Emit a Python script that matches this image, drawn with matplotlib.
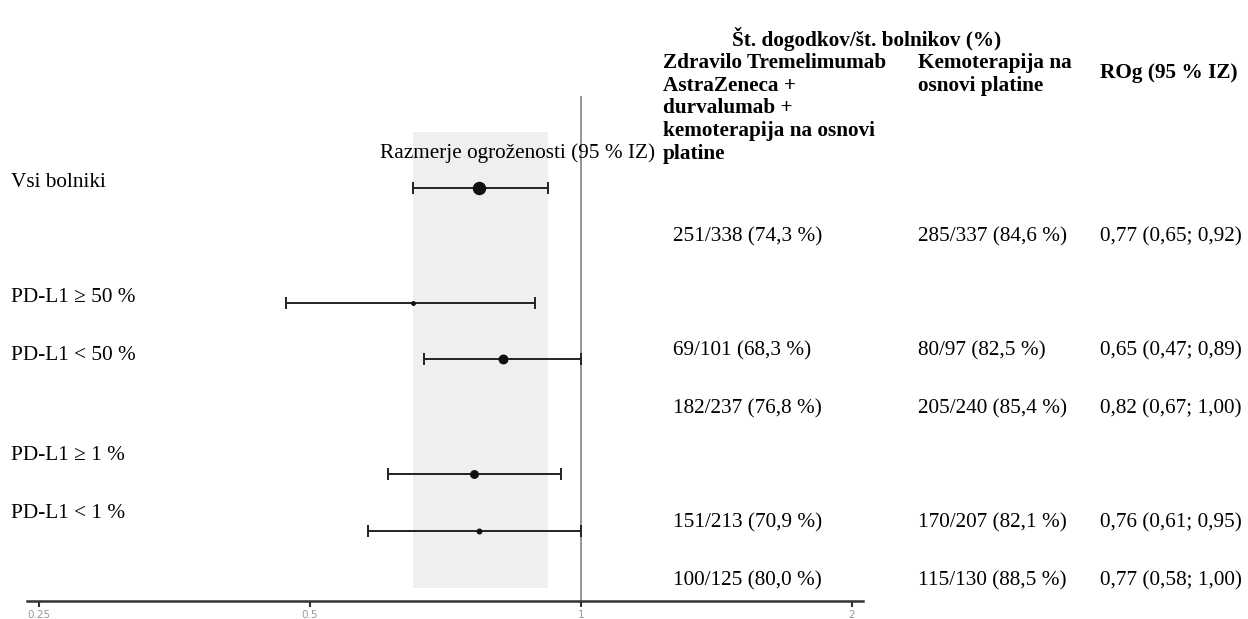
import matplotlib.pyplot as plt
import numpy as np

# subgroups and results
subgroups = ['Vsi bolniki', 'PD-L1 \u2265 50 %', 'PD-L1 < 50 %', 'PD-L1 \u2265 1 %', 'PD-L1 < 1 %']
hr = [0.77, 0.65, 0.82, 0.76, 0.77]
ci_lo = [0.65, 0.47, 0.67, 0.61, 0.58]
ci_hi = [0.92, 0.89, 1.00, 0.95, 1.00]
ev_treat = [251, 69, 182, 151, 100]
n_treat = [338, 101, 237, 213, 125]
ev_chemo = [285, 80, 205, 170, 115]
n_chemo = [337, 97, 240, 207, 130]
x_ticks = [0.25, 0.5, 1, 2]
x_ticklabels = ['0.25', '0.5', '1', '2']

W, H = 1248, 619


def fx(x):
    return x / W


def fy(y):
    return 1 - y / H


def pct(e, n):
    return f'{e}/{n} ({100 * e / n:.1f} %)'.replace('.', ',')


def hr_txt(h, lo, hi):
    return f'{h:.2f} ({lo:.2f}; {hi:.2f})'.replace('.', ',')


plt.rcParams['font.family'] = ['Liberation Serif', 'DejaVu Serif']
fs = 15.3

fig = plt.figure(figsize=(W / 100, H / 100), dpi=100)

# forest axes, y in pixel units of the figure (top = 0)
ax_left, ax_right, ax_bottom = 27, 863, 601
ax = fig.add_axes([fx(ax_left), fy(ax_bottom), (ax_right - ax_left) / W, ax_bottom / H])
ax.set_xscale('log', base=2)
ax.set_xlim(2 ** -2.044, 2 ** 1.0406)
ax.set_ylim(ax_bottom, 0)

row_y = [188, 303, 359, 474, 531]

# shaded band = overall CI
ax.axvspan(ci_lo[0], ci_hi[0], ymin=(ax_bottom - 588) / ax_bottom,
           ymax=(ax_bottom - 132) / ax_bottom, color='#efefef', lw=0, zorder=0)
ax.axvline(1, ymin=0, ymax=(ax_bottom - 97) / ax_bottom, color='#8c8c8c', lw=1.3, zorder=1)

# marker size scales with patient count
totals = np.array(n_treat) + np.array(n_chemo)
for i in range(len(hr)):
    ax.errorbar(hr[i], row_y[i], xerr=[[hr[i] - ci_lo[i]], [ci_hi[i] - hr[i]]],
                fmt='o', color='#111111', ecolor='#222222', elinewidth=1.4,
                capsize=4, capthick=1.4, markersize=totals[i] * 0.0178 * 0.72, zorder=3)

for s in ['top', 'right', 'left']:
    ax.spines[s].set_visible(False)
ax.spines['bottom'].set_color('#333333')
ax.spines['bottom'].set_linewidth(1.8)
ax.set_yticks([])
ax.set_xticks(x_ticks)
ax.set_xticklabels(x_ticklabels, fontsize=7.5, color='#999999', family='DejaVu Sans')
ax.xaxis.set_minor_locator(plt.NullLocator())
ax.tick_params(axis='x', length=4, width=1.5, color='#333333', pad=2.5)
ax.patch.set_alpha(0)

fig.text(fx(518), fy(153), 'Razmerje ogroženosti (95 % IZ)', fontsize=fs,
         ha='center', va='center')

# left labels
label_y = [182, 298, 355, 456, 514]
for lab, y in zip(subgroups, label_y):
    fig.text(fx(11), fy(y), lab, fontsize=fs, ha='left', va='center')

# headers
fig.text(fx(867), fy(39), 'Št. dogodkov/št. bolnikov (%)', fontsize=fs,
         fontweight='bold', ha='center', va='center')
fig.text(fx(663), fy(53),
         'Zdravilo Tremelimumab\nAstraZeneca +\ndurvalumab +\nkemoterapija na osnovi\nplatine',
         fontsize=fs, fontweight='bold', ha='left', va='top', linespacing=1.18)
fig.text(fx(918), fy(53), 'Kemoterapija na\nosnovi platine', fontsize=fs,
         fontweight='bold', ha='left', va='top', linespacing=1.18)
fig.text(fx(1100), fy(73), 'ROg (95 % IZ)', fontsize=fs, fontweight='bold',
         ha='left', va='center')

# value columns
val_y = [237, 351, 409, 523, 581]
for i, y in enumerate(val_y):
    fig.text(fx(673), fy(y), pct(ev_treat[i], n_treat[i]), fontsize=fs, ha='left', va='center')
    fig.text(fx(918), fy(y), pct(ev_chemo[i], n_chemo[i]), fontsize=fs, ha='left', va='center')
    fig.text(fx(1100), fy(y), hr_txt(hr[i], ci_lo[i], ci_hi[i]), fontsize=fs, ha='left', va='center')

fig.savefig('out.png', dpi=100)
